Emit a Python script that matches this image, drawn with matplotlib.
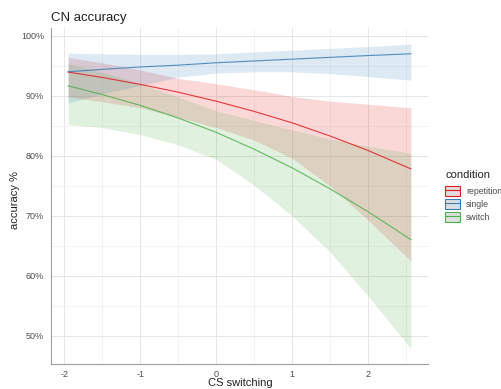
import matplotlib
matplotlib.use("Agg")
import matplotlib.pyplot as plt
from matplotlib.patches import Patch
from matplotlib.lines import Line2D
from matplotlib.ticker import MultipleLocator, FuncFormatter

plt.rcParams['font.family'] = ['Liberation Sans', 'DejaVu Sans']

# x positions (CS switching) at which values were read
cs = [-1.95, -1.5, -1.0, -0.5, 0.0, 0.5, 1.0, 1.5, 2.0, 2.57]

conditions = ["repetition", "single", "switch"]
colors = {"repetition": "#E41A1C", "single": "#377EB8", "switch": "#4DAF4A"}

fit = {
    "repetition": [93.95, 93.05, 91.9, 90.6, 89.1, 87.4, 85.5, 83.3, 80.9, 77.8],
    "single":     [94.0, 94.4, 94.8, 95.1, 95.5, 95.8, 96.1, 96.4, 96.7, 97.0],
    "switch":     [91.65, 90.2, 88.4, 86.3, 83.9, 81.1, 78.0, 74.5, 70.7, 66.0],
}
upper = {
    "repetition": [96.4, 95.5, 94.3, 92.9, 92.0, 91.0, 89.9, 89.1, 88.6, 88.0],
    "single":     [97.1, 97.0, 96.9, 96.9, 97.0, 97.3, 97.6, 97.9, 98.2, 98.6],
    "switch":     [95.4, 93.9, 92.0, 89.8, 87.5, 85.9, 84.3, 82.8, 81.6, 80.4],
}
lower = {
    "repetition": [89.8, 89.0, 88.0, 86.4, 84.7, 82.6, 79.6, 75.0, 69.3, 62.45],
    "single":     [88.8, 90.3, 91.7, 93.1, 93.8, 94.0, 94.0, 93.7, 93.2, 92.6],
    "switch":     [85.2, 84.7, 83.5, 81.8, 79.4, 75.1, 70.0, 64.0, 56.7, 47.8],
}

title = "CN accuracy"
xlabel = "CS switching"
ylabel = "accuracy %"
legend_title = "condition"

W, H = 501, 389
fig = plt.figure(figsize=(W / 100, H / 100), dpi=100)
ax = fig.add_axes([51 / W, 1 - 364 / H, (428 - 51) / W, (364 - 28.3) / H])

alpha = 0.17
for c in conditions:
    ax.fill_between(cs, lower[c], upper[c], color=colors[c], alpha=alpha, linewidth=0, zorder=2)
for c in conditions:
    ax.plot(cs, fit[c], color=colors[c], lw=0.8, alpha=0.85, zorder=3)

ax.set_xlim(-2.176, 2.796)
ax.set_ylim(45.25, 101.25)

ax.xaxis.set_major_locator(MultipleLocator(1))
ax.xaxis.set_minor_locator(MultipleLocator(0.5))
ax.yaxis.set_major_locator(MultipleLocator(10))
ax.yaxis.set_minor_locator(MultipleLocator(5))
ax.yaxis.set_major_formatter(FuncFormatter(lambda v, p: f"{int(round(v))}%"))
ax.xaxis.set_major_formatter(FuncFormatter(lambda v, p: f"{int(round(v))}"))

ax.grid(which='major', color='#e6e6e6', lw=0.7, zorder=0)
ax.grid(which='minor', color='#eeeeee', lw=0.5, zorder=0)
ax.set_axisbelow(True)

for s in ['top', 'right']:
    ax.spines[s].set_visible(False)
for s in ['left', 'bottom']:
    ax.spines[s].set_color('#a0a0a0')
    ax.spines[s].set_linewidth(0.8)

ax.tick_params(which='both', length=0, labelsize=6.5, colors='#4d4d4d')
ax.tick_params(axis='y', pad=5)
ax.tick_params(axis='x', pad=4)

fig.text(240 / W, 1 - 383 / H, xlabel, fontsize=8, color='#222222', ha='center', va='center')
fig.text(15 / W, 1 - 200 / H, ylabel, fontsize=8, color='#222222', ha='center', va='center', rotation=90)
fig.text(51 / W, 1 - 18 / H, title, fontsize=9.5, color='#222222', ha='left', va='center')
fig.text(445 / W, 1 - 175 / H, legend_title, fontsize=8, color='#222222', ha='left', va='center')

handles = []
for c in conditions:
    p = Patch(facecolor='#dedede', edgecolor=colors[c], linewidth=0.8)
    l = Line2D([], [], color=colors[c], lw=0.8)
    handles.append((p, l))
fs_pt = 6.3
fs_px = fs_pt * 100 / 72
leg = fig.legend(handles, conditions, loc='upper left',
                 bbox_to_anchor=(445 / W, 1 - 185.7 / H), frameon=False, fontsize=fs_pt,
                 handlelength=15 / fs_px, handleheight=12 / fs_px,
                 handletextpad=6 / fs_px, labelspacing=3.2 / fs_px,
                 borderaxespad=0, borderpad=0)
for t in leg.get_texts():
    t.set_color('#4d4d4d')

fig.savefig("out.png", dpi=100)
